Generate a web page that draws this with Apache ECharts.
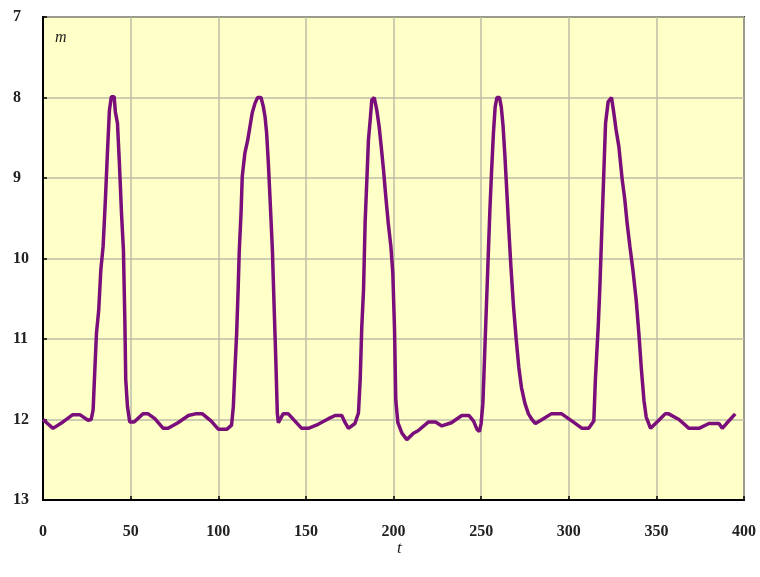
<!DOCTYPE html>
<html>
<head>
<meta charset="utf-8">
<script src="https://cdn.jsdelivr.net/npm/echarts@6/dist/echarts.min.js"></script>
<style>
html,body{margin:0;padding:0;background:#fff;}
#c{width:760px;height:577px;}
</style>
</head>
<body>
<div id="c"></div>
<script>
// time (t) values
var tValues = [
  0, 5.7, 11.4, 17, 21, 25.7, 27.5, 28.6, 29.5, 30.5, 31.8, 33, 34.3, 35.6, 36.8, 37.9, 39, 40.6, 41.3, 42.5, 43.6, 44.8, 45.9, 46.7, 47.2, 48.2, 49.5,
  52, 57, 60, 63.8, 68.6, 71.4, 77, 83, 87, 91, 96, 100, 105, 107.6,
  108.6, 109.5, 110.5, 111.4, 112, 113, 113.7, 115.2, 116.8, 118.1, 119.4, 121, 122.5, 124.4, 125.7, 126.7, 127.6, 128.6, 129.5, 130.9, 132, 132.8, 133.7, 134.3,
  137, 140, 143.8, 147.6, 151.4, 157, 162.9, 166.7, 170.5, 172.4, 174.3, 178, 180,
  181, 181.9, 182.9, 183.8, 184.8, 185.7, 186.7, 187.6, 189, 190.5, 191.8, 193, 194.3, 195.6, 197, 198.5, 199.6, 200.6, 201.3, 202.5, 204.8, 207.6, 211.4,
  214, 220, 224, 227.6, 233, 239, 243, 245.7, 247.6, 249, 250,
  251, 252, 253, 254, 255, 256, 257, 258, 259, 260.5, 261.5, 262.5, 263.5, 264.5, 265.7, 267, 268.5, 270, 271.5, 273, 275, 277, 279, 281,
  284.8, 290, 296, 301.9, 307.6, 311.4, 314.3,
  315.2, 316.8, 317.7, 319, 320, 321, 322.5, 324.4, 325.7, 327, 328.6, 330.5, 332, 333.3, 334.9, 336.6, 338.5, 340, 341.5, 342.9, 344.2, 346.7,
  351.4, 355, 357, 362.9, 368.6, 374.3, 380, 385.7, 387.6, 390, 395
];
// magnitude (m) values
var mValues = [
  12.0, 12.11, 12.03, 11.94, 11.94, 12.01, 12.0, 11.88, 11.42, 10.93, 10.64, 10.14, 9.85, 9.27, 8.67, 8.16, 7.99, 7.99, 8.18, 8.32, 8.82, 9.44, 9.9, 10.76, 11.5, 11.84, 12.03,
  12.03, 11.93, 11.93, 11.99, 12.11, 12.11, 12.04, 11.95, 11.93, 11.93, 12.02, 12.12, 12.12, 12.07,
  11.84, 11.39, 10.93, 10.35, 9.9, 9.44, 8.98, 8.69, 8.53, 8.36, 8.19, 8.07, 8.0, 8.0, 8.11, 8.24, 8.44, 8.82, 9.23, 9.9, 10.68, 11.22, 11.92, 12.04,
  11.93, 11.93, 12.02, 12.11, 12.11, 12.06, 11.99, 11.95, 11.95, 12.04, 12.11, 12.05, 11.92,
  11.5, 10.85, 10.39, 9.56, 9.02, 8.53, 8.28, 8.03, 8.0, 8.16, 8.36, 8.61, 8.9, 9.23, 9.56, 9.85, 10.18, 10.89, 11.76, 12.04, 12.17, 12.25, 12.17,
  12.14, 12.03, 12.03, 12.08, 12.04, 11.95, 11.95, 12.02, 12.12, 12.15, 12.05,
  11.8, 11.2, 10.6, 10.0, 9.4, 8.9, 8.45, 8.12, 8.0, 8.0, 8.12, 8.35, 8.7, 9.1, 9.6, 10.1, 10.6, 11.0, 11.35, 11.6, 11.8, 11.93, 12.0, 12.05,
  12.0, 11.93, 11.93, 12.02, 12.11, 12.11, 12.02,
  11.5, 10.85, 10.39, 9.56, 8.94, 8.32, 8.05, 8.0, 8.19, 8.4, 8.61, 9.02, 9.27, 9.56, 9.85, 10.14, 10.52, 10.93, 11.39, 11.76, 11.97, 12.11,
  12.01, 11.93, 11.93, 12.0, 12.11, 12.11, 12.05, 12.05, 12.11, 12.05, 11.93
];
var xTicks = [0, 50, 100, 150, 200, 250, 300, 350, 400];
var yTicks = [7, 8, 9, 10, 11, 12, 13];

var data = tValues.map(function (t, i) { return [t, mValues[i]]; });

var chart = echarts.init(document.getElementById('c'), null, { renderer: 'canvas' });
var labelFont = 'Liberation Serif';
chart.setOption({
  animation: false,
  backgroundColor: '#ffffff',
  grid: {
    left: 43, right: 16, top: 17, bottom: 77,
    show: true,
    backgroundColor: '#FFFFC8',
    borderColor: '#3a3a3a',
    borderWidth: 2
  },
  xAxis: {
    type: 'value',
    min: xTicks[0], max: xTicks[xTicks.length - 1], interval: 50,
    axisLine: { show: true, onZero: false, lineStyle: { color: '#000', width: 2 } },
    axisTick: { show: true, inside: true, length: 4, lineStyle: { color: '#000', width: 1.5 } },
    splitLine: { show: true, lineStyle: { color: '#BDBDA8', width: 1.5 } },
    axisLabel: { color: '#222', fontFamily: labelFont, fontSize: 16, fontWeight: 'bold', margin: 24 }
  },
  yAxis: {
    type: 'value',
    inverse: true,
    min: yTicks[0], max: yTicks[yTicks.length - 1], interval: 1,
    axisLine: { show: true, lineStyle: { color: '#000', width: 2 } },
    axisTick: { show: true, inside: true, length: 4, lineStyle: { color: '#000', width: 1.5 } },
    splitLine: { show: true, lineStyle: { color: '#BDBDA8', width: 1.5 } },
    axisLabel: { color: '#222', fontFamily: labelFont, fontSize: 16, fontWeight: 'bold', align: 'left', margin: 30 }
  },
  series: [{
    type: 'line',
    data: data,
    showSymbol: false,
    symbol: 'none',
    lineStyle: { color: '#7A0E7A', width: 3.5 },
    smooth: false
  }],
  graphic: [
    { type: 'text', left: 55, top: 30, style: { text: 'm', fontFamily: labelFont, fontStyle: 'italic', fontSize: 16, fill: '#222' } },
    { type: 'text', left: 397, top: 540, style: { text: 't', fontFamily: labelFont, fontStyle: 'italic', fontSize: 17, fill: '#222' } }
  ]
});
</script>
</body>
</html>
